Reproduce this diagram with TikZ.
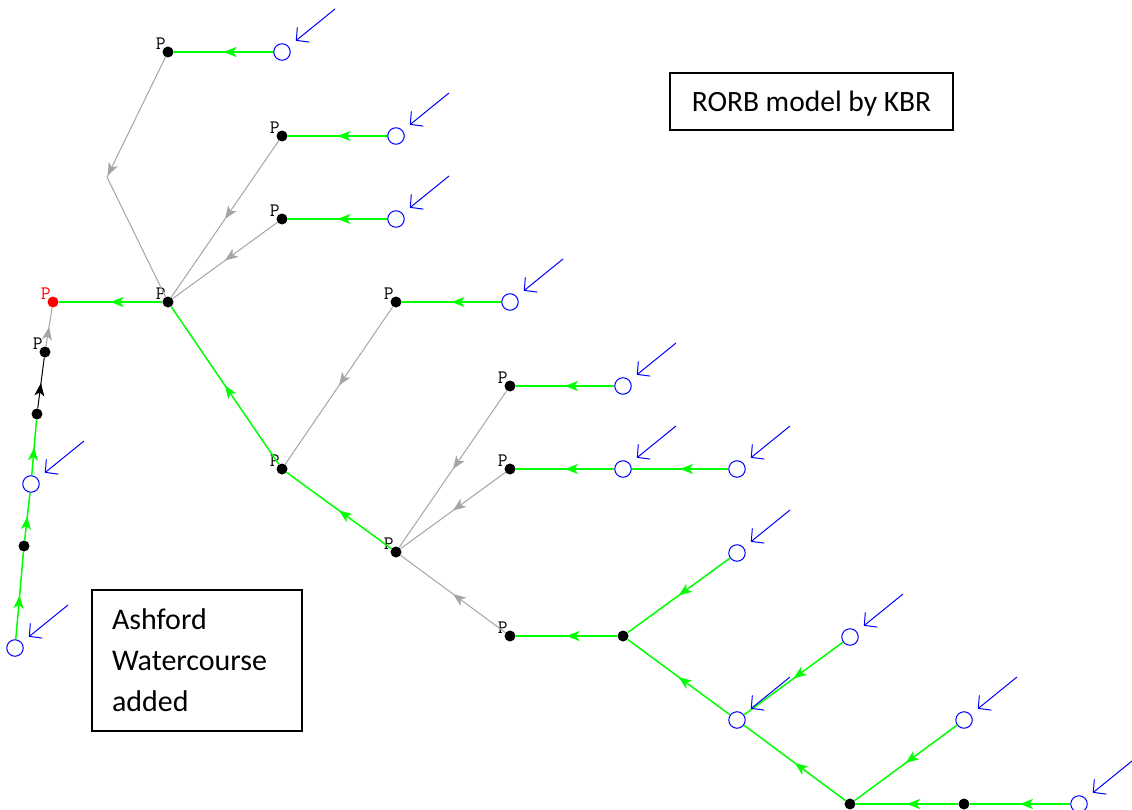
\documentclass[tikz,border=0pt]{standalone}
\usepackage{fontspec}
\newfontfamily\boxfont{Carlito}
\usetikzlibrary{arrows.meta,decorations.markings}
\definecolor{flowgreen}{RGB}{0,255,0}
\definecolor{reachgray}{RGB}{165,165,165}
\tikzset{
  dot/.style={circle, fill=black, inner sep=0pt, minimum size=11pt},
  outdot/.style={circle, fill=red, inner sep=0pt, minimum size=11pt},
  inlet/.style={circle, draw=blue, line width=1pt, fill=white, inner sep=0pt, minimum size=16.5pt},
  plabel/.style={font=\fontsize{19}{19}\ttfamily, inner sep=0pt, label distance=-2.5pt},
  pt/.style={label={[plabel]135:P}},
  midarrow/.style={postaction={decorate, decoration={markings,
      mark=at position #1 with {\arrow{Stealth[length=13pt,width=10pt,inset=3.5pt]}}}}},
  midarrow/.default=0.5,
  flow/.style={draw=flowgreen, line width=1.5pt, midarrow},
  reachline/.style={draw=reachgray, line width=1pt},
  reach/.style={reachline, midarrow},
  blackreach/.style={draw=black, line width=1pt, midarrow},
  inflow/.style={draw=blue, line width=1pt, shorten >=9pt, -{Straight Barb[length=9pt,width=19pt]}},
  textbox/.style={draw=black, line width=1.2pt, inner sep=0pt}
}
\begin{document}
\begin{tikzpicture}[x=1pt, y=-1pt]
\useasboundingbox (0,0) rectangle (1132,810);
\fill[white] (0,0) rectangle (1132,810);

% main catchment nodes
\node[dot, pt] (p1) at (168,52) {};
\node[inlet] (c1) at (282,52) {};
\node[dot, pt] (p2) at (282,136) {};
\node[inlet] (c2) at (396,136) {};
\node[dot, pt] (p3) at (282,219) {};
\node[inlet] (c3) at (396,219) {};
\node[dot, pt] (m) at (168,302) {};
\node[outdot, label={[plabel, text=red]135:P}] (out) at (53,302) {};
\node[dot, pt] (p4) at (396,302) {};
\node[inlet] (c4) at (510,302) {};
\node[dot, pt] (p5) at (282,469) {};
\node[dot, pt] (p6) at (510,386) {};
\node[inlet] (c6) at (623,386) {};
\node[dot, pt] (p7) at (510,469) {};
\node[inlet] (c7a) at (623,469) {};
\node[inlet] (c7b) at (737,469) {};
\node[dot, pt] (p8) at (396,552) {};
\node[dot, pt] (p9) at (510,636) {};
\node[dot] (d9) at (623,636) {};
\node[inlet] (c10) at (737,553) {};
\node[inlet] (c11) at (737,720) {};
\node[inlet] (c12) at (850,637) {};
\node[dot] (j) at (850,804) {};
\node[inlet] (c13) at (964,720) {};
\node[dot] (d14) at (964,804) {};
\node[inlet] (c14) at (1079,804) {};
\coordinate (bend) at (107,177);

% Ashford watercourse chain
\node[dot, pt] (l1) at (45,352) {};
\node[dot] (l2) at (37,414) {};
\node[inlet] (l3) at (31,484) {};
\node[dot] (l4) at (24,546) {};
\node[inlet] (l5) at (15,648) {};

% links
\draw[flow] (c1) -- (p1);
\draw[reachline, midarrow=0.99] (p1) -- (bend);
\draw[reachline] (bend) -- (m);
\draw[flow] (c2) -- (p2);
\draw[reach] (p2) -- (m);
\draw[flow] (c3) -- (p3);
\draw[reach] (p3) -- (m);
\draw[flow, line width=2pt] (m) -- (out);
\draw[flow] (c4) -- (p4);
\draw[reach] (p4) -- (p5);
\draw[flow] (p5) -- (m);
\draw[flow] (p8) -- (p5);
\draw[flow] (c6) -- (p6);
\draw[reach] (p6) -- (p8);
\draw[flow] (c7b) -- (c7a);
\draw[flow] (c7a) -- (p7);
\draw[reach] (p7) -- (p8);
\draw[reach] (p9) -- (p8);
\draw[flow] (d9) -- (p9);
\draw[flow] (c10) -- (d9);
\draw[flow] (c11) -- (d9);
\draw[flow] (c12) -- (c11);
\draw[flow] (j) -- (c11);
\draw[flow] (c13) -- (j);
\draw[flow] (d14) -- (j);
\draw[flow] (c14) -- (d14);

\draw[flow] (l5) -- (l4);
\draw[flow] (l4) -- (l3);
\draw[flow] (l3) -- (l2);
\draw[blackreach] (l2) -- (l1);
\draw[reach] (l1) -- (out);

% local inflows
\foreach \c in {c1,c2,c3,c4,c6,c7a,c7b,c10,c11,c12,c13,c14,l3,l5}
  \draw[inflow] ([shift={(53,-43)}]\c.center) -- (\c);

% notes
\node[textbox, minimum width=283pt, minimum height=57pt, text depth=0pt,
      font=\boxfont\fontsize{29.5}{36}\selectfont] (title) at (811.5,101.5) {RORB model by KBR};
\node[textbox, minimum width=210pt, minimum height=141pt, text width=170pt, align=left,
      font=\boxfont\fontsize{30}{41}\selectfont] (note) at (197,660.5) {Ashford\\Watercourse\\added};
\end{tikzpicture}
\end{document}
